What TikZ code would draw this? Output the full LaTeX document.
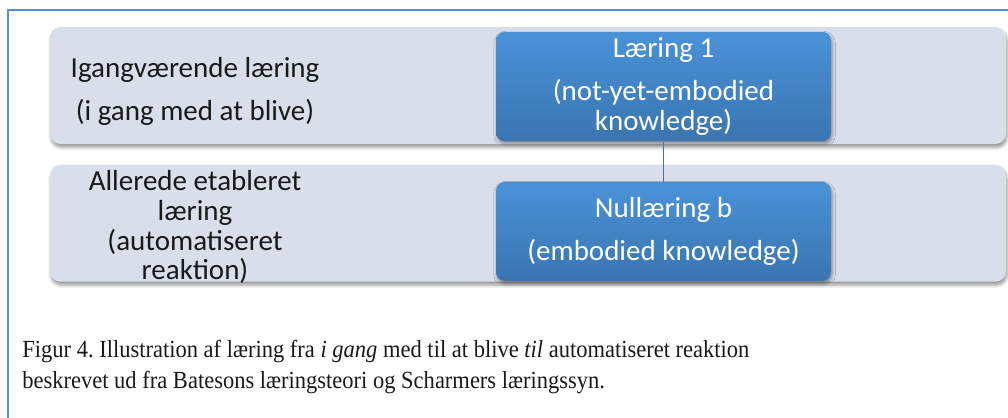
\documentclass[tikz,border=0pt]{standalone}
\usepackage{fontspec}
\setmainfont{Liberation Serif}
\newfontfamily\boxfont{Carlito}
\newfontfamily\capfont{Liberation Serif}[FakeStretch=0.915]
\usepackage{tikz}
\usetikzlibrary{positioning, calc, shadows.blur}
\definecolor{frameblue}{RGB}{85,142,213}
\definecolor{bandgray}{RGB}{217,222,235}
\definecolor{boxtop}{RGB}{74,146,216}
\definecolor{boxbot}{RGB}{58,117,176}
\definecolor{linkblue}{RGB}{80,112,150}
\definecolor{txtdark}{RGB}{25,25,25}
\frenchspacing

\begin{document}
\begin{tikzpicture}[
  band/.style={rectangle, rounded corners=6pt, fill=bandgray, minimum width=19.12cm, minimum height=2.34cm, blur shadow={shadow xshift=0.6pt, shadow yshift=-2pt, shadow blur steps=6}},
  box/.style={rectangle, rounded corners=5pt, top color=boxtop, bottom color=boxbot, minimum width=6.7cm, minimum height=1.98cm, align=center, text=white, font=\boxfont\fontsize{16.5}{17}\selectfont, blur shadow={shadow xshift=0.6pt, shadow yshift=-1.5pt, shadow blur steps=5}},
  lbl/.style={align=center, text=txtdark, font=\boxfont\fontsize{16.5}{17}\selectfont},
  link/.style={draw=linkblue, line width=1.1pt}
]
\useasboundingbox (0,0) rectangle (20.16,-8.34);
\draw[frameblue, line width=1.2pt] (0.16,-8.5) -- (0.16,-0.2) -- (20.3,-0.2);
% bands
\node[band] (band1) at (10.56,-1.71) {};
\node[band, below=0.4cm of band1] (band2) {};
\node[lbl] (igang) at (3.9,-1.82) {Igangværende læring\\[0.26cm](i gang med at blive)};
\node[lbl] (etab) at (3.9,-4.54) {Allerede etableret\\læring\\(automatiseret\\reaktion)};
% boxes
\node[box] (laer1) at (13.27,-1.73) {Læring 1\\[0.26cm](not-yet-embodied\\knowledge)};
\node[box, below=0.8cm of laer1] (null) {Nullæring b\\[0.26cm](embodied knowledge)};
\draw[link] (laer1) -- (null);
% caption
\node[anchor=base west, align=left, inner sep=0pt, text=txtdark, font=\capfont\fontsize{14}{17.6}\selectfont] (caption) at (0.44,-7.76)
  {Figur 4. Illustration af læring fra \textit{i gang} med til at blive \textit{til} automatiseret reaktion\\beskrevet ud fra Batesons læringsteori og Scharmers læringssyn.};
\end{tikzpicture}
\end{document}
